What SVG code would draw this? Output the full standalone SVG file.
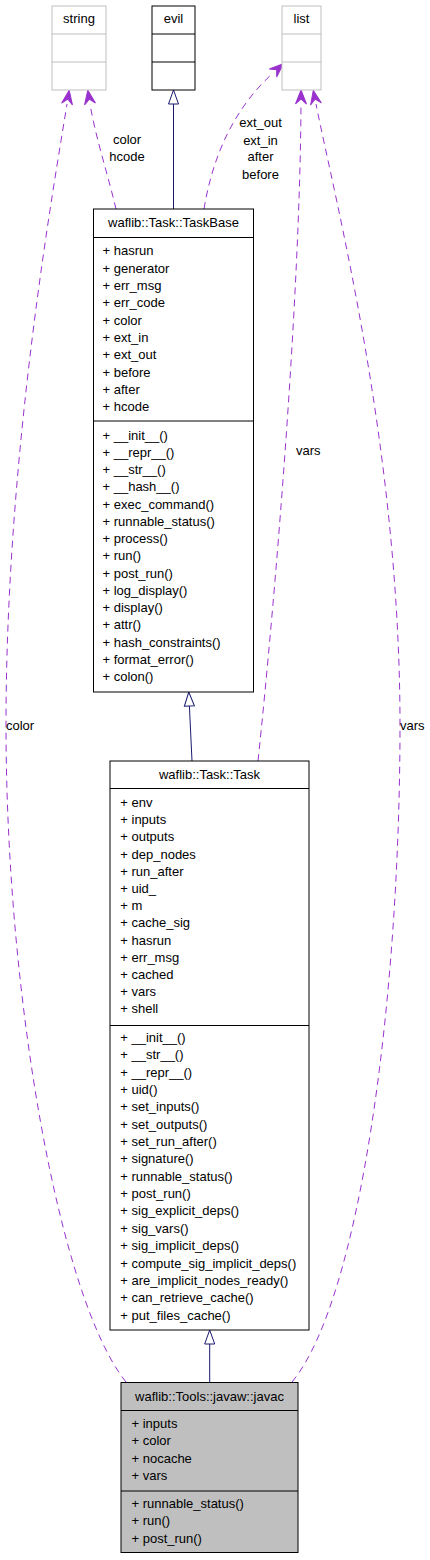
<svg xmlns="http://www.w3.org/2000/svg" width="430" height="1560" viewBox="0 0 430 1560">
<style>
text{font-family:"Liberation Sans",Arial,sans-serif;font-size:13px;fill:#000}
.c{text-anchor:middle}
.box{fill:#fff;stroke:#000;stroke-width:1}
.gbox{fill:#fff;stroke:#bfbfbf;stroke-width:1}
.sel{fill:#bfbfbf;stroke:#000;stroke-width:1}
.sep{stroke:#000;stroke-width:1}
.gsep{stroke:#bfbfbf;stroke-width:1}
.use{fill:none;stroke:#9a32cd;stroke-width:1;stroke-dasharray:7,5;marker-end:url(#open)}
.inh{fill:none;stroke:#191970;stroke-width:1;marker-end:url(#tri)}
</style>
<defs>
<marker id="open" markerUnits="userSpaceOnUse" orient="auto" refX="0" refY="0" markerWidth="20" markerHeight="20" overflow="visible">
<path d="M14,0 L0,-5.5 L5,0 L0,5.5 Z" fill="#9a32cd" stroke="#9a32cd" stroke-width="1"/>
</marker>
<marker id="tri" markerUnits="userSpaceOnUse" orient="auto" refX="0" refY="0" markerWidth="20" markerHeight="20" overflow="visible">
<path d="M0,-5 L14,0 L0,5 Z" fill="#fff" stroke="#191970" stroke-width="1"/>
</marker>
</defs>

<g id="connectors">
<path class="inh" d="M173.5,209 L173.5,104"/>
<path class="inh" d="M192,761 L189.4,706"/>
<path class="inh" d="M209.7,1382 L209.7,1344"/>
<path class="use" d="M126,1382 C60,1300 6,1000 6,725 C6,450 55,180 67,104"/>
<text x="6" y="730">color</text>
<path class="use" d="M116,209 C108,175 95,135 90,104"/>
<text class="c" x="127" y="143.8">color</text>
<text class="c" x="127" y="161.2">hcode</text>
<path class="use" d="M204,209 C212,160 232,110 273,73"/>
<text class="c" x="260.5" y="127.2">ext_out</text>
<text class="c" x="260.5" y="144.5">ext_in</text>
<text class="c" x="260.5" y="161.2">after</text>
<text class="c" x="260.5" y="178.5">before</text>
<path class="use" d="M258,761 C275,600 300,300 301,104"/>
<text x="296" y="454.5">vars</text>
<path class="use" d="M292,1382 C360,1300 400,1000 400,725 C400,450 335,200 316,104"/>
<text x="400" y="730">vars</text>
</g>

<g id="string">
<rect class="gbox" x="52" y="6" width="54" height="84"/>
<line class="gsep" x1="52" y1="34" x2="106" y2="34"/>
<line class="gsep" x1="52" y1="62" x2="106" y2="62"/>
<text class="c" x="79" y="22.8">string</text>
</g>

<g id="evil">
<rect class="box" x="152" y="6" width="43" height="84"/>
<line class="sep" x1="152" y1="34" x2="195" y2="34"/>
<line class="sep" x1="152" y1="62" x2="195" y2="62"/>
<text class="c" x="173.5" y="22.8">evil</text>
</g>

<g id="list">
<rect class="gbox" x="282" y="6" width="39" height="84"/>
<line class="gsep" x1="282" y1="34" x2="321" y2="34"/>
<line class="gsep" x1="282" y1="62" x2="321" y2="62"/>
<text class="c" x="301.5" y="22.8">list</text>
</g>

<g id="TaskBase">
<rect class="box" x="93.5" y="209" width="160" height="483"/>
<line class="sep" x1="93.5" y1="237.5" x2="253.5" y2="237.5"/>
<line class="sep" x1="93.5" y1="421" x2="253.5" y2="421"/>
<text class="c" x="173.5" y="227.2">waflib::Task::TaskBase</text>
<text x="102.5" y="255.2">+ hasrun</text>
<text x="102.5" y="272.5">+ generator</text>
<text x="102.5" y="289.9">+ err_msg</text>
<text x="102.5" y="307.2">+ err_code</text>
<text x="102.5" y="324.5">+ color</text>
<text x="102.5" y="341.9">+ ext_in</text>
<text x="102.5" y="359.2">+ ext_out</text>
<text x="102.5" y="376.5">+ before</text>
<text x="102.5" y="393.8">+ after</text>
<text x="102.5" y="411.2">+ hcode</text>
<text x="102.5" y="439.5">+ __init__()</text>
<text x="102.5" y="456.8">+ __repr__()</text>
<text x="102.5" y="474">+ __str__()</text>
<text x="102.5" y="491.3">+ __hash__()</text>
<text x="102.5" y="508.5">+ exec_command()</text>
<text x="102.5" y="525.8">+ runnable_status()</text>
<text x="102.5" y="543.1">+ process()</text>
<text x="102.5" y="560.3">+ run()</text>
<text x="102.5" y="577.6">+ post_run()</text>
<text x="102.5" y="594.8">+ log_display()</text>
<text x="102.5" y="612.1">+ display()</text>
<text x="102.5" y="629.4">+ attr()</text>
<text x="102.5" y="646.6">+ hash_constraints()</text>
<text x="102.5" y="663.9">+ format_error()</text>
<text x="102.5" y="681.1">+ colon()</text>
</g>

<g id="Task">
<rect class="box" x="110" y="761" width="199" height="569"/>
<line class="sep" x1="110" y1="788.5" x2="309" y2="788.5"/>
<line class="sep" x1="110" y1="1025.5" x2="309" y2="1025.5"/>
<text class="c" x="209.5" y="778.5">waflib::Task::Task</text>
<text x="120.3" y="806.8">+ env</text>
<text x="120.3" y="824">+ inputs</text>
<text x="120.3" y="841.2">+ outputs</text>
<text x="120.3" y="858.5">+ dep_nodes</text>
<text x="120.3" y="875.7">+ run_after</text>
<text x="120.3" y="892.9">+ uid_</text>
<text x="120.3" y="910.1">+ m</text>
<text x="120.3" y="927.3">+ cache_sig</text>
<text x="120.3" y="944.6">+ hasrun</text>
<text x="120.3" y="961.8">+ err_msg</text>
<text x="120.3" y="979">+ cached</text>
<text x="120.3" y="996.2">+ vars</text>
<text x="120.3" y="1013.4">+ shell</text>
<text x="120.3" y="1041.8">+ __init__()</text>
<text x="120.3" y="1059.2">+ __str__()</text>
<text x="120.3" y="1076.5">+ __repr__()</text>
<text x="120.3" y="1093.9">+ uid()</text>
<text x="120.3" y="1111.2">+ set_inputs()</text>
<text x="120.3" y="1128.6">+ set_outputs()</text>
<text x="120.3" y="1146">+ set_run_after()</text>
<text x="120.3" y="1163.3">+ signature()</text>
<text x="120.3" y="1180.7">+ runnable_status()</text>
<text x="120.3" y="1198">+ post_run()</text>
<text x="120.3" y="1215.4">+ sig_explicit_deps()</text>
<text x="120.3" y="1232.8">+ sig_vars()</text>
<text x="120.3" y="1250.1">+ sig_implicit_deps()</text>
<text x="120.3" y="1267.5">+ compute_sig_implicit_deps()</text>
<text x="120.3" y="1284.8">+ are_implicit_nodes_ready()</text>
<text x="120.3" y="1302.2">+ can_retrieve_cache()</text>
<text x="120.3" y="1319.6">+ put_files_cache()</text>
</g>

<g id="javac">
<rect class="sel" x="121" y="1382.5" width="177" height="170"/>
<line class="sep" x1="121" y1="1410.5" x2="298" y2="1410.5"/>
<line class="sep" x1="121" y1="1491" x2="298" y2="1491"/>
<text class="c" x="209.5" y="1400.5">waflib::Tools::javaw::javac</text>
<text x="131.5" y="1428.2">+ inputs</text>
<text x="131.5" y="1445.4">+ color</text>
<text x="131.5" y="1462.6">+ nocache</text>
<text x="131.5" y="1479.8">+ vars</text>
<text x="131.5" y="1507.8">+ runnable_status()</text>
<text x="131.5" y="1525.4">+ run()</text>
<text x="131.5" y="1543">+ post_run()</text>
</g>
</svg>
